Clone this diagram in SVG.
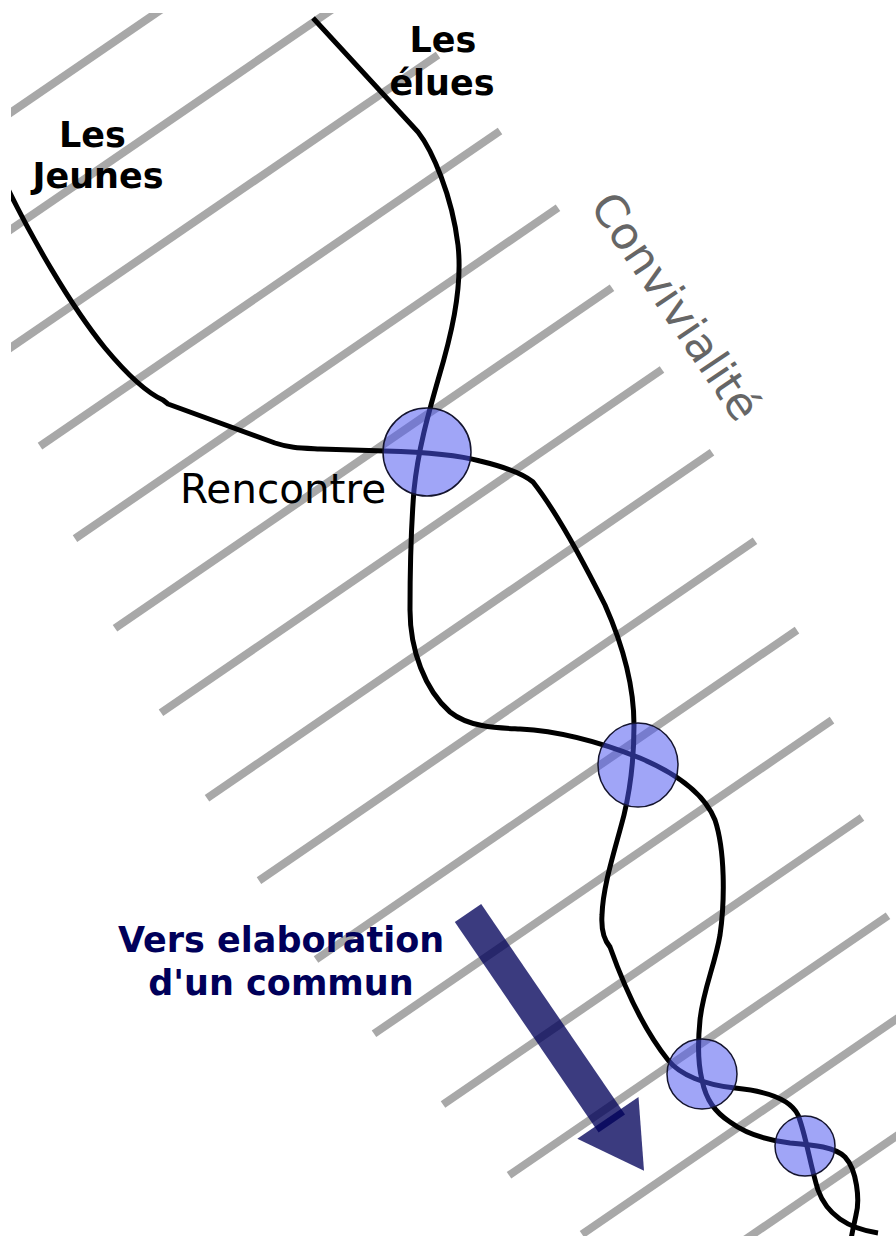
<svg xmlns="http://www.w3.org/2000/svg" width="896" height="1236" viewBox="0 0 896 1236">
<style>
.stripe{stroke:#a8a8a8;stroke-width:8;fill:none}
.path{stroke:#000;stroke-width:5;fill:none;stroke-linejoin:round}
.meet{fill:#4b55f0;fill-opacity:0.53;stroke:#14142e;stroke-width:1.5}
.lbl{font-family:"DejaVu Sans","Liberation Sans",sans-serif;font-weight:bold;font-size:35px;fill:#000}
.arrow{fill:#000058;fill-opacity:0.77}
</style>
<defs>
<clipPath id="frame"><rect x="11" y="13" width="885" height="1223"/></clipPath>
</defs>
<rect width="896" height="1236" fill="#fff"/>
<g id="stripes" clip-path="url(#frame)">
<line class="stripe" x1="0" y1="120" x2="180" y2="-3.3"/>
<line class="stripe" x1="0" y1="237" x2="350" y2="-2.8"/>
<line class="stripe" x1="0" y1="355" x2="438" y2="55"/>
<line class="stripe" x1="40" y1="446.1" x2="500" y2="131"/>
<line class="stripe" x1="75" y1="538.6" x2="558" y2="207.8"/>
<line class="stripe" x1="115" y1="628.2" x2="612" y2="287.8"/>
<line class="stripe" x1="161" y1="712.7" x2="662" y2="369.5"/>
<line class="stripe" x1="207" y1="798.2" x2="712" y2="452.3"/>
<line class="stripe" x1="259" y1="880.6" x2="755" y2="540.8"/>
<line class="stripe" x1="316" y1="959.5" x2="797" y2="630.1"/>
<line class="stripe" x1="374" y1="1033.8" x2="832" y2="720.1"/>
<line class="stripe" x1="443" y1="1104.5" x2="862" y2="817.5"/>
<line class="stripe" x1="509" y1="1175.3" x2="888" y2="915.7"/>
<line class="stripe" x1="582" y1="1234.3" x2="910" y2="1009.7"/>
<line class="stripe" x1="740" y1="1243.1" x2="910" y2="1126.7"/>
</g>
<g id="connectors" clip-path="url(#frame)">
<path id="path-jeunes" class="path" d="M6,185 C30,235 70,305 105,348 C125,372 145,392 163,400 L168,404 L275,443 C290,448 300,448 320,449 L385,451 C420,452 455,454 480,461 C505,467 522,473 533,482 C555,510 585,565 605,605 C625,650 634,690 634,725 C634,760 630,790 624,815 C615,850 603,885 602,915 C601,930 604,940 610,947 C620,975 640,1025 668,1060 C680,1075 705,1085 735,1088 C765,1091 790,1098 798,1115 C806,1135 810,1165 818,1190 C826,1212 845,1228 878,1233"/>
<path id="path-elues" class="path" d="M313,18 L418,132 C432,150 452,195 458,245 C463,290 450,340 438,380 C428,415 418,450 414,490 C410,540 410,580 410,610 C410,650 425,690 450,712 C470,728 500,728 520,729 C560,731 600,742 640,758 C680,775 705,795 715,820 C725,850 725,900 720,935 C715,965 703,990 700,1020 C698,1040 697,1060 702,1080 C706,1100 715,1112 730,1122 C745,1133 765,1140 790,1143 C815,1145 835,1147 845,1157 C857,1170 860,1200 856,1215 C854,1225 852,1232 851,1240"/>
</g>
<g id="meeting-1"><circle class="meet" cx="427" cy="452" r="44"/></g>
<g id="meeting-2"><ellipse class="meet" cx="638" cy="765" rx="40" ry="42"/></g>
<g id="meeting-3"><circle class="meet" cx="702" cy="1074" r="35"/></g>
<g id="meeting-4"><circle class="meet" cx="805" cy="1146" r="30"/></g>
<g id="arrow">
<polygon class="arrow" points="481.2,904 625,1114.6 598.6,1132.6 454.8,922"/>
<polygon class="arrow" points="638.5,1096.9 644,1170.7 577.3,1138.7"/>
</g>
<g id="label-jeunes">
<text class="lbl" x="92.5" y="147" text-anchor="middle">Les</text>
<text class="lbl" x="98" y="188" text-anchor="middle">Jeunes</text>
</g>
<g id="label-elues">
<text class="lbl" x="443" y="52" text-anchor="middle">Les</text>
<text class="lbl" x="442" y="95" text-anchor="middle">élues</text>
</g>
<g id="label-rencontre">
<text x="180" y="503" font-family="DejaVu Sans, Liberation Sans, sans-serif" font-size="40.5" fill="#000">Rencontre</text>
</g>
<g id="label-convivialite">
<text transform="translate(589,206) rotate(56)" font-family="DejaVu Sans, Liberation Sans, sans-serif" font-size="45" fill="#666">Convivialité</text>
</g>
<g id="label-commun">
<text class="lbl" x="281" y="952" text-anchor="middle" style="fill:#00005a">Vers elaboration</text>
<text class="lbl" x="281" y="995" text-anchor="middle" style="fill:#00005a">d'un commun</text>
</g>
</svg>
